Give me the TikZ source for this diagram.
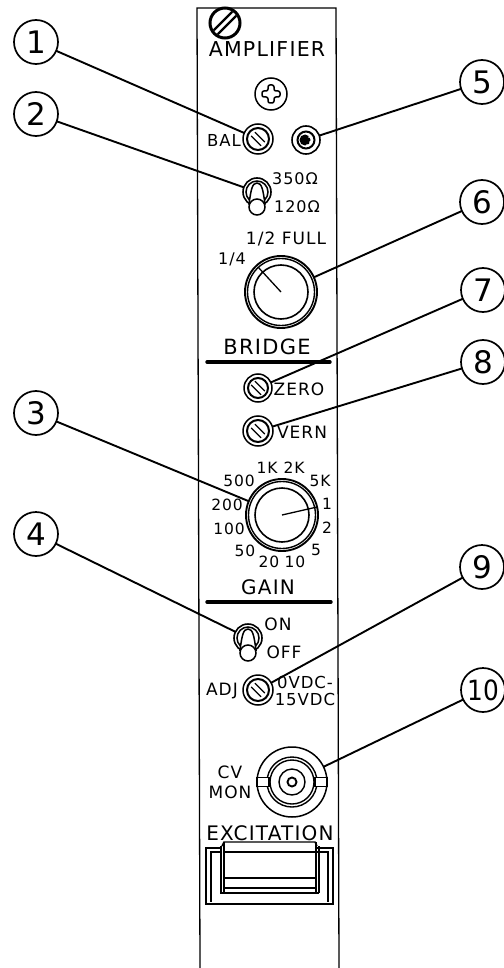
\documentclass[tikz,border=0pt]{standalone}
\usepackage{graphicx}
\usepackage{fontspec}
\newfontfamily\pfont[LetterSpace=6]{DejaVu Sans}
\newfontfamily\cfont{DejaVu Sans}
\tikzset{
  lbl/.style={inner sep=0pt,outer sep=0pt,text=black,font=\pfont\fontsize{#1}{#1}\selectfont},
  callout/.style={circle,draw=black,line width=1.7pt,minimum size=44pt,inner sep=0pt,outer sep=0pt,font=\cfont\fontsize{31}{31}\selectfont},
  lead/.style={draw=black,line width=1.9pt},
  holder/.style={circle,inner sep=0pt,outer sep=0pt,minimum size=#1},
  heavyrule/.style={line width=3.4pt,line cap=round,draw=black},
}
\newcommand{\panelscrew}[4]{% name,x,y,radius
  \node[holder=2*#4 pt,draw=black,line width=1.5pt] (#1) at (#2,#3) {};
  \begin{scope}[shift={(#2,#3)}]
    \draw[line width=2pt] (0,0) circle (#4-4);
    \begin{scope}[rotate=-45]
      \draw[line width=1.2pt] (-7,-2.6) -- (7,-2.6) (-7,2.6) -- (7,2.6);
    \end{scope}
  \end{scope}}
\newcommand{\paneltoggle}[3]{% name,x,y
  \node[holder=28pt,draw=black,line width=1.6pt] (#1) at (#2,#3) {};
  \begin{scope}[shift={(#2,#3)}]
    \draw[line width=1.5pt] (0,0) circle (11);
    \draw[line width=1.5pt,fill=white] (-8,12) .. controls (-6,-2) and (-5,-9) .. (0,-9) .. controls (5,-9) and (6,-2) .. (8,12) -- cycle;
    \draw[line width=1.5pt,fill=white] (0,15) circle (8);
  \end{scope}}
\newcommand{\panelknob}[3]{% name,x,y
  \node[holder=72pt,draw=black,line width=1.9pt] (#1) at (#2,#3) {};
  \begin{scope}[shift={(#2,#3)}]
    \draw[line width=1.4pt] (0,0) circle (33.5);
    \draw[line width=1.6pt] (0,0) circle (27);
  \end{scope}}
\begin{document}
\begin{tikzpicture}[x=1pt,y=-1pt]
\useasboundingbox (0,0) rectangle (503,968);
% panel
\draw[line width=1.3pt] (200,968) -- (197,8) -- (336,8) -- (339,968);
% top screw
\node[holder=30pt,draw=black,line width=3pt] (topscrew) at (225,23) {};
\begin{scope}[shift={(225,23)},rotate=45]
  \draw[line width=2.2pt] (-13,-2.8) -- (13,-2.8) (-13,2.8) -- (13,2.8);
\end{scope}
\node[lbl=20.5] (amp) at (267,49) {AMPLIFIER};
% phillips
\node[holder=32pt,draw=black,line width=1.5pt] (phil) at (271,94) {};
\draw[line width=1.5pt,rounded corners=2pt,shift={(271,94)}]
  (-3,-9) -- (3,-9) -- (3,-3) -- (9,-3) -- (9,3) -- (3,3) -- (3,9) -- (-3,9) -- (-3,3) -- (-9,3) -- (-9,-3) -- (-3,-3) -- cycle;
% BAL
\panelscrew{bal}{258}{139}{15}
\node[lbl=16.5] (ballbl) at (224,140) {BAL};
% jack
\node[holder=28pt,draw=black,line width=1.6pt] (jack) at (306,140) {};
\draw[line width=2pt] (306,140) circle (8.5);
\fill (305,140) circle (5.5);
\fill[white] (309,137) circle (1) (310,142) circle (1) (307,145) circle (.8);
% toggle 350/120
\paneltoggle{tog1}{257}{192}
\node[lbl=16] (l350) at (295,179) {350Ω};
\node[lbl=16] (l120) at (297,207) {120Ω};
% knob bridge
\panelknob{knobA}{281}{292}
\draw[line width=1.3pt] (281,292) -- (258,267);
\node[lbl=17] (l12) at (286,239) {1/2 FULL};
\node[lbl=16] (l14) at (232,259) {1/4};
\node[lbl=21] (bridge) at (267,347) {BRIDGE};
\draw[heavyrule] (207,362) -- (330,362);
% zero, vern
\panelscrew{zero}{258}{388}{14}
\node[lbl=17] (lzero) at (299,389) {ZERO};
\panelscrew{vern}{258}{431}{15}
\node[lbl=17] (lvern) at (302,432) {VERN};
% knob gain
\panelknob{knobB}{282}{515}
\draw[line width=1.3pt] (282,515) -- (317,507);
\node[lbl=15.5] (g1k) at (267,468) {1K};
\node[lbl=15.5] (g2k) at (294,468) {2K};
\node[lbl=15.5] (g500) at (239,481) {500};
\node[lbl=15.5] (g5k) at (320,481) {5K};
\node[lbl=15.5] (g200) at (227,505) {200};
\node[lbl=15.5] (g1) at (327,504) {1};
\node[lbl=15.5] (g100) at (229,529) {100};
\node[lbl=15.5] (g2) at (327,528) {2};
\node[lbl=15.5] (g50) at (245,551) {50};
\node[lbl=15.5] (g5) at (316,550) {5};
\node[lbl=15.5] (g20) at (269,562) {20};
\node[lbl=15.5] (g10) at (295,562) {10};
\node[lbl=20] (gain) at (268,587) {GAIN};
\draw[heavyrule] (207,602) -- (331,602);
% toggle on/off
\paneltoggle{tog2}{248}{638}
\node[lbl=17] (lon) at (278,624) {ON};
\node[lbl=17] (loff) at (284,652) {OFF};
% adj
\node[lbl=17] (ladj) at (222,691) {ADJ};
\panelscrew{adj}{258}{690}{15}
\node[lbl=16.5] (lv0) at (305,682) {0VDC-};
\node[lbl=16.5] (lv15) at (305,699) {15VDC};
% BNC
\node[holder=70pt,draw=black,line width=1.5pt] (bnc) at (292,782) {};
\begin{scope}[shift={(292,782)}]
  \draw[line width=1.4pt] (0,0) circle (25) (0,0) circle (22) (0,0) circle (13);
  \draw[line width=1.9pt] (0,0) circle (4.5);
  \draw[line width=1.4pt,fill=white] (-35,-4.5) rectangle (-23,4.5);
  \draw[line width=1.4pt,fill=white] (23,-4.5) rectangle (35,4.5);
\end{scope}
\node[lbl=17] (lcv) at (230,772) {CV};
\node[lbl=17] (lmon) at (230,792) {MON};
% excitation
\node[lbl=20] (exc) at (270,833) {EXCITATION};
\draw[line width=1.4pt] (222,848) -- (206,848) -- (206,904) -- (333,904) -- (333,848) -- (317,848);
\draw[line width=1.2pt] (222,852) -- (211,852) -- (211,902);
\draw[line width=1.2pt] (317,852) -- (328,852) -- (328,902);
\draw[line width=1.4pt] (222,846) -- (224,842) -- (315,842) -- (317,846);
\draw[line width=1.4pt] (224,842) -- (224,892) (316,842) -- (316,892);
\draw[line width=1.2pt] (221,846) -- (221,893) (319,846) -- (319,893);
\draw[line width=1.4pt] (224,852) -- (316,852);
\draw[line width=1.4pt] (224,878) -- (316,878);
\draw[line width=1.4pt] (224,888) -- (316,888);
\draw[line width=2.2pt] (220,893) -- (319,893);
% callouts
\node[callout] (c1) at (36,42) {1};
\node[callout] (c2) at (36,114) {2};
\node[callout] (c3) at (36,413) {3};
\node[callout] (c4) at (36,534) {4};
\node[callout] (c5) at (482,82) {5};
\node[callout] (c6) at (482,202) {6};
\node[callout] (c7) at (483,290) {7};
\node[callout] (c8) at (483,362) {8};
\node[callout] (c9) at (482,567) {9};
\node[callout] (c10) at (483,690) {\scalebox{.8}[.9]{10}};
\draw[lead] (c1) -- (bal);
\draw[lead] (c2) -- (tog1);
\draw[lead] (c3) -- (knobB);
\draw[lead] (c4) -- (tog2);
\draw[lead] (c5) -- (jack);
\draw[lead] (c6) -- (knobA);
\draw[lead] (c7) -- (zero);
\draw[lead] (c8) -- (vern);
\draw[lead] (c9) -- (adj);
\draw[lead] (c10) -- (bnc);
\end{tikzpicture}
\end{document}
